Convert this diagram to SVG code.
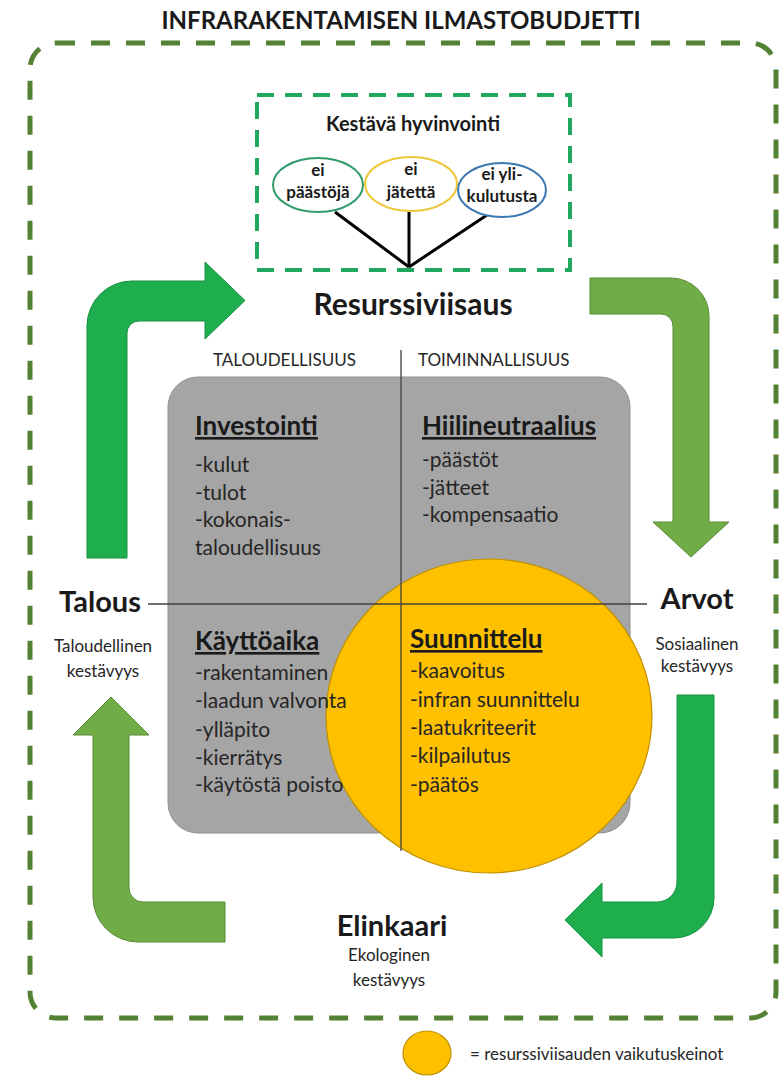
<svg xmlns="http://www.w3.org/2000/svg" width="782" height="1076" viewBox="0 0 782 1076">
<style>
text{font-family:Lato,"Open Sans","Liberation Sans",sans-serif;fill:#1a1a1a}
.h{font-weight:bold;font-size:29px}
.hd{font-weight:bold;font-size:26px;text-decoration:underline}
.li{font-size:21px;fill:#262626}
.cap{font-size:17px;fill:#262626}
.sub{font-size:17px;fill:#262626}
.el{font-weight:bold;font-size:17px;text-anchor:middle}
.mid{text-anchor:middle}
.g1{fill:#1fae4e;stroke:#17913f;stroke-width:1}
.g2{fill:#70ad47;stroke:#578a36;stroke-width:1}
</style>
<rect width="782" height="1076" fill="#ffffff"/>
<g id="title"><text x="401" y="29" class="mid" style="font-weight:bold;font-size:24px">INFRARAKENTAMISEN ILMASTOBUDJETTI</text></g>
<g id="outer-frame"><rect x="30" y="43" width="746" height="975" rx="26" fill="none" stroke="#548235" stroke-width="5" stroke-dasharray="19 16"/></g>
<g id="kestava-hyvinvointi">
<rect x="257" y="95" width="313" height="175" fill="none" stroke="#20a760" stroke-width="4" stroke-dasharray="17 11"/>
<text x="413" y="131" class="mid" style="font-weight:bold;font-size:20px">Kestävä hyvinvointi</text>
</g>
<g id="connectors">
<line x1="335" y1="212" x2="409" y2="267" stroke="#000" stroke-width="3"/>
<line x1="409" y1="212" x2="409" y2="267" stroke="#000" stroke-width="3"/>
<line x1="487" y1="215" x2="409" y2="267" stroke="#000" stroke-width="3"/>
<path class="g1" d="M87,558 V326 A45,45 0 0 1 132,281 H205 V262 L245,300.5 L205,339 V321 H139 A12,12 0 0 0 127,333 V558 Z"/>
<path class="g2" d="M590,278 H671 A38,38 0 0 1 709,316 V522 H729 L691,557 L653,522 H673 V326 A12,12 0 0 0 661,314 H590 Z"/>
<path class="g1" d="M677,695 H714 V898 A40,40 0 0 1 674,938 H602 V957 L565,920 L602,883 V902 H657 A20,20 0 0 0 677,882 Z"/>
<path class="g2" d="M111,697 L149,735 H129 V888 A14,14 0 0 0 143,902 H225 V942 H138 A45,45 0 0 1 93,897 V735 H73 Z"/>
</g>
<g id="ei-paastoja"><ellipse cx="318" cy="185" rx="45" ry="27" fill="#fff" stroke="#2f9b6c" stroke-width="2"/>
<text x="318" y="176" class="el">ei</text><text x="318" y="198" class="el">päästöjä</text></g>
<g id="ei-jatetta"><ellipse cx="411" cy="184" rx="46" ry="27" fill="#fff" stroke="#efc73a" stroke-width="2"/>
<text x="411" y="175" class="el">ei</text><text x="411" y="198" class="el">jätettä</text></g>
<g id="ei-ylikulutusta"><ellipse cx="502" cy="190" rx="44" ry="27" fill="#fff" stroke="#3b78b3" stroke-width="2"/>
<text x="502" y="180" class="el">ei yli-</text><text x="502" y="202" class="el">kulutusta</text></g>
<g id="resurssiviisaus"><text x="413" y="315" class="h mid" style="font-size:30px">Resurssiviisaus</text></g>
<g id="matrix">
<rect x="168" y="377" width="462" height="456" rx="30" fill="#a5a5a5" stroke="#909090" stroke-width="1"/>
<ellipse cx="489" cy="716" rx="163" ry="157" fill="#ffc000" stroke="#bf9000" stroke-width="1.2"/>
<line x1="401" y1="350" x2="401" y2="851" stroke="#404040" stroke-width="1.3"/>
<line x1="148" y1="604" x2="647" y2="604" stroke="#404040" stroke-width="1.3"/>
<text x="213" y="366" class="cap">TALOUDELLISUUS</text>
<text x="418" y="366" class="cap">TOIMINNALLISUUS</text>
</g>
<g id="investointi">
<text x="195" y="435" class="hd">Investointi</text>
<text x="195" y="472" class="li">-kulut</text>
<text x="195" y="500" class="li">-tulot</text>
<text x="195" y="527" class="li">-kokonais-</text>
<text x="195" y="555" class="li">taloudellisuus</text>
</g>
<g id="hiilineutraalius">
<text x="422" y="435" class="hd">Hiilineutraalius</text>
<text x="422" y="467" class="li">-päästöt</text>
<text x="422" y="495" class="li">-jätteet</text>
<text x="422" y="522" class="li">-kompensaatio</text>
</g>
<g id="kayttoaika">
<text x="195" y="650" class="hd">Käyttöaika</text>
<text x="195" y="680" class="li">-rakentaminen</text>
<text x="195" y="708" class="li">-laadun valvonta</text>
<text x="195" y="737" class="li">-ylläpito</text>
<text x="195" y="765" class="li">-kierrätys</text>
<text x="195" y="792" class="li">-käytöstä poisto</text>
</g>
<g id="suunnittelu">
<text x="410" y="648" class="hd">Suunnittelu</text>
<text x="410" y="678" class="li">-kaavoitus</text>
<text x="410" y="707" class="li">-infran suunnittelu</text>
<text x="410" y="735" class="li">-laatukriteerit</text>
<text x="410" y="763" class="li">-kilpailutus</text>
<text x="410" y="792" class="li">-päätös</text>
</g>
<g id="talous">
<text x="100" y="612" class="h mid">Talous</text>
<text x="103" y="652" class="sub mid">Taloudellinen</text>
<text x="103" y="677" class="sub mid">kestävyys</text>
</g>
<g id="arvot">
<text x="697" y="609" class="h mid">Arvot</text>
<text x="697" y="650" class="sub mid">Sosiaalinen</text>
<text x="697" y="672" class="sub mid">kestävyys</text>
</g>
<g id="elinkaari">
<text x="392" y="936" class="h mid">Elinkaari</text>
<text x="389" y="961" class="sub mid">Ekologinen</text>
<text x="389" y="986" class="sub mid">kestävyys</text>
</g>
<g id="legend">
<ellipse cx="427" cy="1053" rx="24" ry="22" fill="#ffc000" stroke="#bf9000" stroke-width="1.2"/>
<text x="470" y="1060" style="font-size:17px;fill:#262626">= resurssiviisauden vaikutuskeinot</text>
</g>
</svg>
